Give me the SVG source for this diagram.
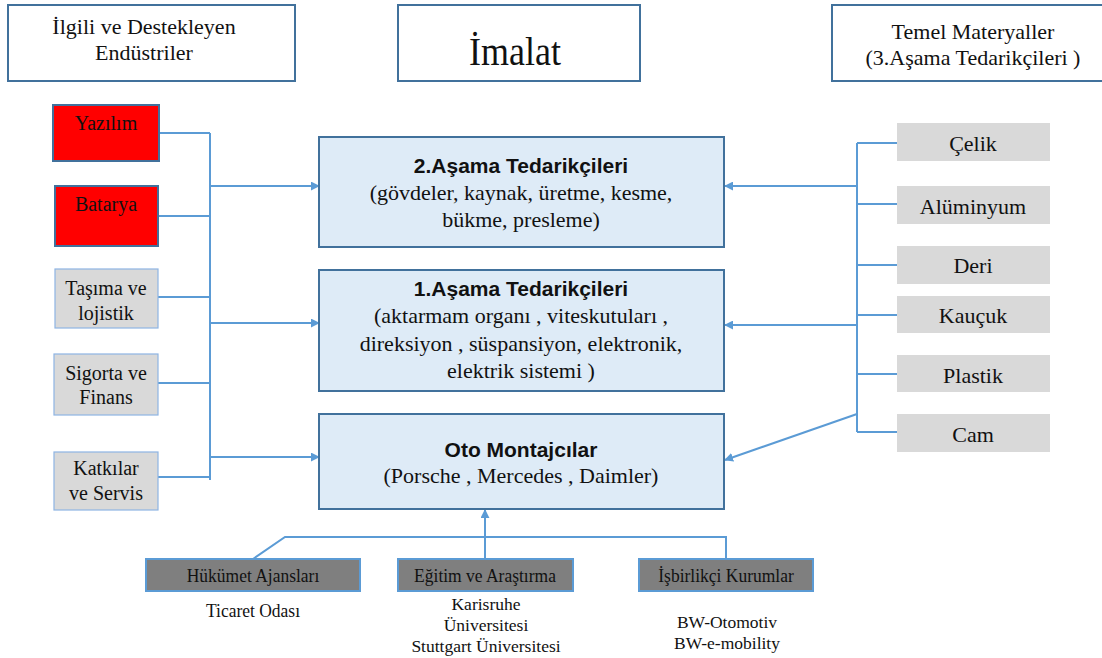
<svg xmlns="http://www.w3.org/2000/svg" width="1102" height="658" viewBox="0 0 1102 658">
  <defs>
    <marker id="ah" viewBox="0 0 10 10" refX="9" refY="5" markerWidth="9" markerHeight="9" markerUnits="userSpaceOnUse" orient="auto">
      <path d="M0,0 L10,5 L0,10 z" fill="#5B9BD5"/>
    </marker>
  </defs>
  <style>
    .hdr { fill: #ffffff; stroke: #41719C; stroke-width: 2; }
    .main { fill: #DEEBF7; stroke: #41719C; stroke-width: 2; }
    .red { fill: #FF0000; stroke: #41719C; stroke-width: 2; }
    .gray { fill: #D9D9D9; stroke: #8EB4E3; stroke-width: 1.2; }
    .mat { fill: #D9D9D9; }
    .dark { fill: #7F7F7F; stroke: #5B9BD5; stroke-width: 2; }
    .t { font-family: "Liberation Serif", "Times New Roman", serif; fill: #111111; text-anchor: middle; }
    .b { font-family: "Liberation Sans", Arial, sans-serif; font-weight: bold; fill: #111111; text-anchor: middle; font-size: 21px; }
    .s22 { font-size: 22px; }
    .s20 { font-size: 20px; }
    .s18 { font-size: 17.5px; }
    .c { fill: none; stroke: #5B9BD5; stroke-width: 2; }
    .a { fill: none; stroke: #5B9BD5; stroke-width: 2; marker-end: url(#ah); }
  </style>

  <!-- connectors -->
  <g id="connectors">
    <line class="c" x1="210" y1="133" x2="210" y2="480"/>
    <line class="c" x1="159" y1="133" x2="210" y2="133"/>
    <line class="c" x1="158" y1="216" x2="210" y2="216"/>
    <line class="c" x1="158" y1="297" x2="210" y2="297"/>
    <line class="c" x1="158" y1="383" x2="210" y2="383"/>
    <line class="c" x1="158" y1="477" x2="210" y2="477"/>
    <line class="a" x1="210" y1="186" x2="319" y2="186"/>
    <line class="a" x1="210" y1="323" x2="319" y2="323"/>
    <line class="a" x1="210" y1="457" x2="319" y2="457"/>
    <line class="c" x1="857" y1="143" x2="857" y2="432"/>
    <line class="c" x1="857" y1="143" x2="897" y2="143"/>
    <line class="c" x1="857" y1="204" x2="897" y2="204"/>
    <line class="c" x1="857" y1="265" x2="897" y2="265"/>
    <line class="c" x1="857" y1="315" x2="897" y2="315"/>
    <line class="c" x1="857" y1="374" x2="897" y2="374"/>
    <line class="c" x1="857" y1="432" x2="897" y2="432"/>
    <line class="a" x1="857" y1="186" x2="725" y2="186"/>
    <line class="a" x1="857" y1="325" x2="725" y2="325"/>
    <line class="a" x1="857" y1="414" x2="725" y2="460"/>
    <polyline class="c" points="253,559 285,537 726,537 726,559"/>
    <line class="a" x1="485" y1="559" x2="485" y2="510"/>
  </g>

  <!-- header boxes -->
  <g id="hdr-ilgili">
    <rect class="hdr" x="8" y="5" width="287" height="76"/>
    <text class="t s22" x="144" y="34">İlgili ve Destekleyen</text>
    <text class="t s22" x="144" y="60">Endüstriler</text>
  </g>
  <g id="hdr-imalat">
    <rect class="hdr" x="398" y="5" width="242" height="76"/>
    <text class="t" transform="translate(515,65) scale(1,1.12)" x="0" y="0" font-size="36">İmalat</text>
  </g>
  <g id="hdr-temel">
    <rect class="hdr" x="832" y="5" width="274" height="76"/>
    <text class="t s22" x="973" y="39">Temel Materyaller</text>
    <text class="t s22" x="973" y="65">(3.Aşama Tedarikçileri )</text>
  </g>

  <!-- left boxes -->
  <g id="yazilim">
    <rect class="red" x="53" y="105" width="106" height="56"/>
    <text class="t s20" x="106" y="130">Yazılım</text>
  </g>
  <g id="batarya">
    <rect class="red" x="55" y="186" width="103" height="60"/>
    <text class="t s20" x="106" y="211">Batarya</text>
  </g>
  <g id="tasima">
    <rect class="gray" x="55" y="269" width="103" height="59"/>
    <text class="t s20" x="106" y="295">Taşıma ve</text>
    <text class="t s20" x="106" y="320">lojistik</text>
  </g>
  <g id="sigorta">
    <rect class="gray" x="54" y="354" width="104" height="61"/>
    <text class="t s20" x="106" y="380">Sigorta ve</text>
    <text class="t s20" x="106" y="404">Finans</text>
  </g>
  <g id="katkilar">
    <rect class="gray" x="54" y="452" width="104" height="58"/>
    <text class="t s20" x="106" y="475">Katkılar</text>
    <text class="t s20" x="106" y="500">ve Servis</text>
  </g>

  <!-- center boxes -->
  <g id="asama2">
    <rect class="main" x="319" y="137" width="405" height="110"/>
    <text class="b" x="521" y="173">2.Aşama Tedarikçileri</text>
    <text class="t s22" x="521" y="200">(gövdeler, kaynak, üretme, kesme,</text>
    <text class="t s22" x="521" y="227">bükme, presleme)</text>
  </g>
  <g id="asama1">
    <rect class="main" x="319" y="270" width="405" height="121"/>
    <text class="b" x="521" y="296">1.Aşama Tedarikçileri</text>
    <text class="t s22" x="521" y="323">(aktarmam organı , viteskutuları ,</text>
    <text class="t s22" x="521" y="351">direksiyon , süspansiyon, elektronik,</text>
    <text class="t s22" x="521" y="378">elektrik sistemi )</text>
  </g>
  <g id="oto">
    <rect class="main" x="319" y="414" width="405" height="95"/>
    <text class="b" x="521" y="457">Oto Montajcılar</text>
    <text class="t s22" x="521" y="483">(Porsche , Mercedes , Daimler)</text>
  </g>

  <!-- right boxes -->
  <g id="celik">
    <rect class="mat" x="897" y="123" width="153" height="38"/>
    <text class="t s22" x="973" y="151">Çelik</text>
  </g>
  <g id="aluminyum">
    <rect class="mat" x="897" y="186" width="153" height="38"/>
    <text class="t s22" x="973" y="214">Alüminyum</text>
  </g>
  <g id="deri">
    <rect class="mat" x="897" y="246" width="153" height="38"/>
    <text class="t s22" x="973" y="273">Deri</text>
  </g>
  <g id="kaucuk">
    <rect class="mat" x="897" y="296" width="153" height="37"/>
    <text class="t s22" x="973" y="323">Kauçuk</text>
  </g>
  <g id="plastik">
    <rect class="mat" x="897" y="355" width="153" height="37"/>
    <text class="t s22" x="973" y="383">Plastik</text>
  </g>
  <g id="cam">
    <rect class="mat" x="897" y="414" width="153" height="38"/>
    <text class="t s22" x="973" y="442">Cam</text>
  </g>

  <!-- bottom boxes -->
  <g id="hukumet">
    <rect class="dark" x="146" y="559" width="214" height="32"/>
    <text class="t s18" transform="translate(253,582) scale(1,1.12)">Hükümet Ajansları</text>
    <text class="t s18" transform="translate(253,617) scale(1,1.12)">Ticaret Odası</text>
  </g>
  <g id="egitim">
    <rect class="dark" x="398" y="559" width="175" height="32"/>
    <text class="t s18" transform="translate(485,582) scale(1,1.12)">Eğitim ve Araştırma</text>
    <text class="t s18" x="486" y="610">Karisruhe</text>
    <text class="t s18" x="486" y="631">Üniversitesi</text>
    <text class="t s18" x="486" y="652">Stuttgart Üniversitesi</text>
  </g>
  <g id="isbirlikci">
    <rect class="dark" x="639" y="559" width="174" height="32"/>
    <text class="t s18" transform="translate(726,582) scale(1,1.12)">İşbirlikçi Kurumlar</text>
    <text class="t s18" x="727" y="628">BW-Otomotiv</text>
    <text class="t s18" x="727" y="649">BW-e-mobility</text>
  </g>
</svg>
